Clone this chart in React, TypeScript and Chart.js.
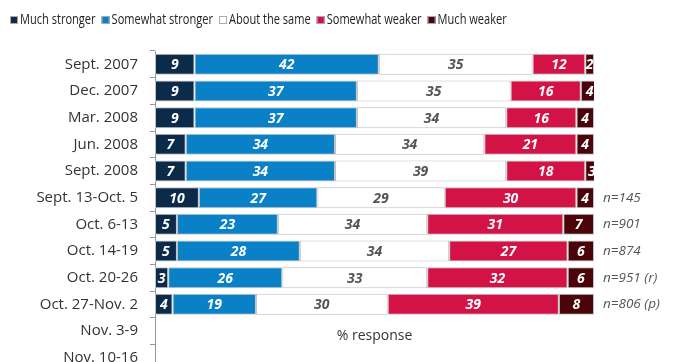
import React, { useEffect, useRef } from "react";
import { Chart, registerables } from "chart.js";

Chart.register(...registerables);

const categories = [
  "Sept. 2007",
  "Dec. 2007",
  "Mar. 2008",
  "Jun. 2008",
  "Sept. 2008",
  "Sept. 13-Oct. 5",
  "Oct. 6-13",
  "Oct. 14-19",
  "Oct. 20-26",
  "Oct. 27-Nov. 2",
  "Nov. 3-9",
  "Nov. 10-16",
];

const seriesNames = ["Much stronger", "Somewhat stronger", "About the same", "Somewhat weaker", "Much weaker"];
const muchStronger = [9, 9, 9, 7, 7, 10, 5, 5, 3, 4, null, null];
const somewhatStronger = [42, 37, 37, 34, 34, 27, 23, 28, 26, 19, null, null];
const aboutSame = [35, 35, 34, 34, 39, 29, 34, 34, 33, 30, null, null];
const somewhatWeaker = [12, 16, 16, 21, 18, 30, 31, 27, 32, 39, null, null];
const muchWeaker = [2, 4, 4, 4, 3, 4, 7, 6, 6, 8, null, null];
const sampleNotes = ["", "", "", "", "", "n=145", "n=901", "n=874", "n=951 (r)", "n=806 (p)", "", ""];
const axisNote = "% response";

const seriesColors = ["#0c2a4a", "#0a81c6", "#ffffff", "#d31245", "#4a0309"];
const labelColors = ["#ffffff", "#ffffff", "#555555", "#ffffff", "#ffffff"];

const SANS = "'Open Sans', 'DejaVu Sans', sans-serif";

const legendPlugin = {
  id: "customLegend",
  afterDraw(chart: any) {
    const ctx = chart.ctx;
    ctx.save();
    ctx.font = `14px ${SANS}`;
    ctx.textBaseline = "middle";
    ctx.textAlign = "left";
    let x = 10;
    const y = 20;
    seriesNames.forEach((name, i) => {
      ctx.fillStyle = seriesColors[i];
      ctx.fillRect(x, y - 4, 8, 8);
      ctx.strokeStyle = "#aaaaaa";
      ctx.lineWidth = 1;
      ctx.strokeRect(x + 0.5, y - 3.5, 7, 7);
      ctx.fillStyle = "#222222";
      const w = ctx.measureText(name).width * 0.79;
      ctx.fillText(name, x + 10, y, w);
      x += 10 + w + 6;
    });
    ctx.restore();
  },
};

const labelsPlugin = {
  id: "barLabels",
  afterDatasetsDraw(chart: any) {
    const ctx = chart.ctx;
    ctx.save();
    ctx.textAlign = "center";
    ctx.textBaseline = "middle";
    ctx.font = `italic bold 14px ${SANS}`;
    chart.data.datasets.forEach((ds: any, di: number) => {
      const meta = chart.getDatasetMeta(di);
      meta.data.forEach((bar: any, i: number) => {
        const v = ds.data[i];
        if (v == null) return;
        const props = bar.getProps(["x", "y", "base"], true);
        const cx = (props.x + props.base) / 2;
        ctx.fillStyle = labelColors[di];
        ctx.fillText(String(v), cx, props.y + 1);
      });
    });
    const yScale = chart.scales.y;
    ctx.textAlign = "left";
    ctx.font = `italic 13.5px ${SANS}`;
    ctx.fillStyle = "#555555";
    sampleNotes.forEach((n, i) => {
      if (!n) return;
      ctx.fillText(n, chart.chartArea.right + 9, yScale.getPixelForValue(i));
    });
    const xScale = chart.scales.x;
    ctx.textAlign = "center";
    ctx.font = `14px ${SANS}`;
    ctx.fillStyle = "#333333";
    ctx.fillText(axisNote, xScale.getPixelForValue(50), yScale.getPixelForValue(10) + 5);
    ctx.restore();
  },
};

export default function App() {
  const ref = useRef<HTMLCanvasElement>(null);
  useEffect(() => {
    if (!ref.current) return;
    const seriesData = [muchStronger, somewhatStronger, aboutSame, somewhatWeaker, muchWeaker];
    const chart = new Chart(ref.current, {
      type: "bar",
      data: {
        labels: categories,
        datasets: seriesNames.map((name, i) => ({
          label: name,
          data: seriesData[i],
          backgroundColor: seriesColors[i],
          borderColor: "#c2c2c2",
          borderWidth: 1,
          borderSkipped: false,
          barPercentage: 0.79,
          categoryPercentage: 1,
        })),
      },
      options: {
        indexAxis: "y",
        responsive: false,
        animation: false,
        layout: { padding: { top: 51, right: 79, bottom: 2, left: 0 } },
        plugins: { legend: { display: false }, tooltip: { enabled: false } },
        scales: {
          x: { display: false, stacked: true, min: 0, max: 100 },
          y: {
            stacked: true,
            offset: true,
            grid: { offset: true, drawOnChartArea: false, drawTicks: true, tickLength: 5, color: "#999999" },
            border: { color: "#999999", width: 1 },
            ticks: { font: { size: 15, family: SANS }, color: "#333333", padding: 12 },
            afterFit: (s: any) => {
              s.width = 155;
            },
          },
        },
      },
      plugins: [legendPlugin, labelsPlugin],
    } as any);
    return () => chart.destroy();
  }, []);
  return (
    <div style={{ position: "absolute", left: 0, top: 0, width: 673, height: 392, background: "#fff" }}>
      <canvas ref={ref} width={673} height={392} />
    </div>
  );
}
